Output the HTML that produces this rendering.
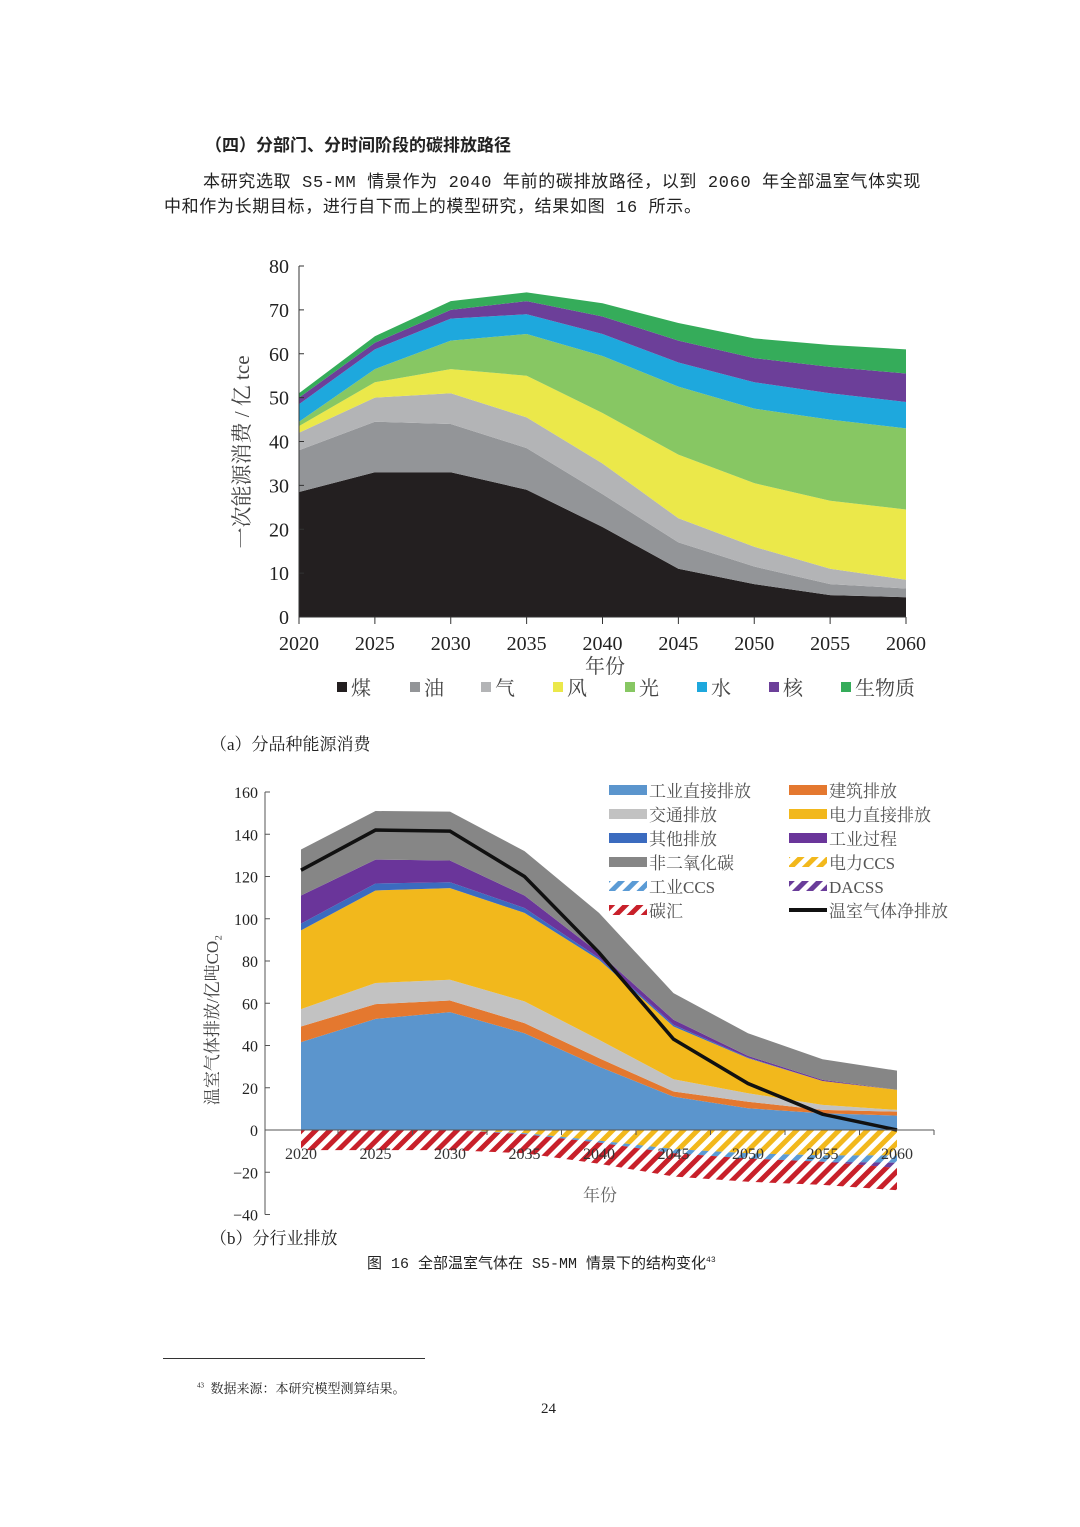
<!DOCTYPE html>
<html><head><meta charset="utf-8">
<style>
html,body{margin:0;padding:0;background:#fff;}
body{width:1080px;height:1527px;position:relative;overflow:hidden;font-family:"Liberation Serif","Noto Serif CJK SC",serif;color:#222;}
.t{position:absolute;white-space:nowrap;}
svg{position:absolute;left:0;top:0;}
svg text{font-family:"Liberation Serif","Noto Serif CJK SC",serif;}
</style></head>
<body>
<div class="t" style="left:205px;top:131px;font-size:17px;font-weight:bold;font-family:'Liberation Sans','Noto Sans CJK SC',sans-serif;">（四）分部门、分时间阶段的碳排放路径</div>
<div class="t" style="left:203px;top:167px;font-size:17px;letter-spacing:0.65px;font-family:'Liberation Mono','Noto Sans CJK SC',monospace;">本研究选取 S5-MM 情景作为 2040 年前的碳排放路径，以到 2060 年全部温室气体实现</div>
<div class="t" style="left:164px;top:192px;font-size:17px;letter-spacing:0.65px;font-family:'Liberation Mono','Noto Sans CJK SC',monospace;">中和作为长期目标，进行自下而上的模型研究，结果如图 16 所示。</div>
<svg id="svg" width="1080" height="1527">
<defs>
<pattern id="h-yellow" patternUnits="userSpaceOnUse" width="10" height="10" patternTransform="rotate(45)"><rect width="10" height="10" fill="#fff"/><rect width="5" height="10" fill="#f2b81c"/></pattern>
<pattern id="h-blue" patternUnits="userSpaceOnUse" width="10" height="10" patternTransform="rotate(45)"><rect width="10" height="10" fill="#fff"/><rect width="5" height="10" fill="#5b9bd5"/></pattern>
<pattern id="h-purple" patternUnits="userSpaceOnUse" width="10" height="10" patternTransform="rotate(45)"><rect width="10" height="10" fill="#fff"/><rect width="5" height="10" fill="#6a3d9a"/></pattern>
<pattern id="h-red" patternUnits="userSpaceOnUse" width="10" height="10" patternTransform="rotate(45)"><rect width="10" height="10" fill="#fff"/><rect width="5" height="10" fill="#c8202a"/></pattern>
</defs>
</svg>
<div class="t" style="left:367px;top:1252px;font-size:15px;font-family:'Liberation Mono','Noto Sans CJK SC',monospace;">图 16 全部温室气体在 S5-MM 情景下的结构变化<sup style="font-size:8px">43</sup></div>
<div style="position:absolute;left:163px;top:1358px;width:262px;height:1px;background:#333;"></div>
<div class="t" style="left:197px;top:1378px;font-size:13px;"><sup style="font-size:7px">43</sup>&nbsp; 数据来源：本研究模型测算结果。</div>
<div class="t" style="left:541px;top:1401px;font-size:15px;">24</div>
<script>
// ---- Chart (a) data ----
const yearsA = [2020,2025,2030,2035,2040,2045,2050,2055,2060];
const namesA = ['煤','油','气','风','光','水','核','生物质'];
const coalA = [28.5,33,33,29,20.5,11,7.5,5,4.5];
const oilA = [9.5,11.5,11,9.5,7.5,6,4,2.5,2];
const gasA = [4,5.5,7,7,7,5.5,4.5,3.5,2];
const windA = [1.5,3.5,5.5,9.5,11.5,14.5,14.5,15.5,16];
const solarA = [1,3,6.5,9.5,13,15.5,17,18.5,18.5];
const hydroA = [4,4.5,5,4.5,5,5.5,6,6,6];
const nuclearA = [1.5,1.5,2,3,4,5,5.5,6,6.5];
const bioA = [1,1.5,2,2,3,4,4.5,5,5.5];
const ticksA = [0,10,20,30,40,50,60,70,80];
// ---- Chart (b) data ----
const yearsB = [2020,2025,2030,2035,2040,2045,2050,2055,2060];
const indDirB = [41.6,52.6,55.8,45.8,30,15.8,10.3,7.9,6.8];
const buildB = [7.4,7,5.5,4.8,4,2.4,3.1,1.6,1.9];
const transB = [8.2,10,9.8,10.3,8.7,5.8,4,2.4,0.8];
const powerB = [37.3,43.8,43.4,41.9,37.9,25,16.6,11.3,9.5];
const otherB = [3.2,3.3,2.8,2.3,0.8,0.8,0.3,0,0];
const procB = [13.3,11.3,10.3,5.9,2.4,2.4,0.8,0.5,0];
const nonCO2B = [21.8,23,23.1,21,19,12.6,10.7,9.8,9.1];
const powerCCSB = [0,0,0,1.5,5,9,11,12,12];
const indCCSB = [0,0,0,0.5,1,2,2.5,3,3.5];
const dacssB = [0,0,0,0,0,0,0,0,2.5];
const sinkB = [9.5,9.5,9.5,9,10,11,11,11,10.5];
const netB = [123,142,141.5,120,84,43,22,7.5,0];
const ticksB = [-40,-20,0,20,40,60,80,100,120,140,160];

const NS='http://www.w3.org/2000/svg';
const svg=document.getElementById('svg');
function mk(tag,attrs,parent){const e=document.createElementNS(NS,tag);for(const k in attrs)e.setAttribute(k,attrs[k]);(parent||svg).appendChild(e);return e;}
function txt(x,y,s,size,anchor,fill,parent){const e=mk('text',{x:x,y:y,'font-size':size,'text-anchor':anchor||'start',fill:fill||'#222'},parent);e.textContent=s;return e;}

// ===== Chart A =====
const gA=mk('g',{});


const xA=y=>299+(y-2020)/40*607;
const yA=v=>617-v*351/80;
const seriesA=[coalA,oilA,gasA,windA,solarA,hydroA,nuclearA,bioA];
const colA=['#231f20','#939598','#b3b4b6','#ebe84a','#87c763','#1ea8dd','#6c3f99','#35ac5a'];
const slugA=['coal','oil','gas','wind','solar','hydro','nuclear','biomass'];
let baseA=yearsA.map(()=>0);
seriesA.forEach((s,i)=>{
  const top=baseA.map((b,j)=>b+s[j]);
  let d='M'+yearsA.map((yr,j)=>xA(yr)+','+yA(top[j])).join('L');
  for(let j=yearsA.length-1;j>=0;j--)d+='L'+xA(yearsA[j])+','+yA(baseA[j]);
  const p=mk('path',{d:d+'Z',fill:colA[i]},gA);
  
  
  baseA=top;
});
mk('line',{x1:299,y1:266,x2:299,y2:617,stroke:'#333','stroke-width':1},gA);
mk('line',{x1:299,y1:617,x2:906,y2:617,stroke:'#333','stroke-width':1},gA);
ticksA.forEach(t=>{
  mk('line',{x1:299,y1:yA(t),x2:304,y2:yA(t),stroke:'#333'},gA);
  const e=txt(289,yA(t)+7,String(t),20,'end','#222',gA);
  
  
});
yearsA.forEach(yr=>{
  mk('line',{x1:xA(yr),y1:617,x2:xA(yr),y2:624,stroke:'#333'},gA);
  const e=txt(xA(yr),650,String(yr),20,'middle','#222',gA);
  
  
});
const xtA=txt(605,673,'年份',20,'middle','#444',gA);


const ytA=txt(0,0,'一次能源消费 / 亿 tce',21,'middle','#444',gA);
ytA.setAttribute('transform','translate(249,452) rotate(-90)');


const legXA=[337,410,481,553,625,697,769,841];
namesA.forEach((n,i)=>{
  const g=mk('g',{},gA);
  
  
  mk('rect',{x:legXA[i],y:682,width:10,height:10,fill:colA[i]},g);
  txt(legXA[i]+14,695,n,20,'start','#444',g);
});
const capA=txt(210,750,'（a）分品种能源消费',17,'start','#222');



// ===== Chart B =====
const gB=mk('g',{});


const xB=y=>301+(y-2020)/40*596;
const yB=v=>1130-v*338/160;
const posB=[indDirB,buildB,transB,powerB,otherB,procB,nonCO2B];
const posCol=['#5b95cd','#e4782f','#c2c2c2','#f2b81c','#3b6bbf','#6a359a','#868686'];
const posSlug=['industry-direct','building','transport','power-direct','other','industry-process','non-co2'];
let baseB=yearsB.map(()=>0);
posB.forEach((s,i)=>{
  const top=baseB.map((b,j)=>b+s[j]);
  let d='M'+yearsB.map((yr,j)=>xB(yr)+','+yB(top[j])).join('L');
  for(let j=yearsB.length-1;j>=0;j--)d+='L'+xB(yearsB[j])+','+yB(baseB[j]);
  const p=mk('path',{d:d+'Z',fill:posCol[i]},gB);
  
  
  baseB=top;
});
const negB=[powerCCSB,indCCSB,dacssB,sinkB];
const negFill=['url(#h-yellow)','url(#h-blue)','url(#h-purple)','url(#h-red)'];
const negSlug=['power-ccs','industry-ccs','dacss','carbon-sink'];
baseB=yearsB.map(()=>0);
negB.forEach((s,i)=>{
  const bot=baseB.map((b,j)=>b-s[j]);
  let d='M'+yearsB.map((yr,j)=>xB(yr)+','+yB(baseB[j])).join('L');
  for(let j=yearsB.length-1;j>=0;j--)d+='L'+xB(yearsB[j])+','+yB(bot[j]);
  const p=mk('path',{d:d+'Z',fill:negFill[i]},gB);
  
  
  baseB=bot;
});
const net=mk('polyline',{points:yearsB.map((yr,j)=>xB(yr)+','+yB(netB[j])).join(' '),fill:'none',stroke:'#111','stroke-width':3.5},gB);


mk('line',{x1:265,y1:yB(160),x2:265,y2:yB(-40),stroke:'#555'},gB);
mk('line',{x1:265,y1:1130,x2:934,y2:1130,stroke:'#555'},gB);
ticksB.forEach(t=>{
  mk('line',{x1:265,y1:yB(t),x2:270,y2:yB(t),stroke:'#555'},gB);
  const e=txt(258,yB(t)+6,t<0?'−'+(-t):String(t),16,'end','#222',gB);
  
  
});
yearsB.forEach(yr=>{
  mk('line',{x1:xB(yr)+37,y1:1130,x2:xB(yr)+37,y2:1135,stroke:'#555'},gB);
  const e=txt(xB(yr),1159,String(yr),16,'middle','#333',gB);
  
  
});
const xtB=txt(600,1201,'年份',17,'middle','#666',gB);


const ytB=txt(0,0,'温室气体排放/亿吨CO₂',17,'middle','#444',gB);
ytB.setAttribute('transform','translate(218,1020) rotate(-90)');


const legB=[
 ['工业直接排放','#5b95cd',0],['建筑排放','#e4782f',0],
 ['交通排放','#c2c2c2',0],['电力直接排放','#f2b81c',0],
 ['其他排放','#3b6bbf',0],['工业过程','#6a359a',0],
 ['非二氧化碳','#868686',0],['电力CCS','url(#h-yellow)',1],
 ['工业CCS','url(#h-blue)',1],['DACSS','url(#h-purple)',1],
 ['碳汇','url(#h-red)',1],['温室气体净排放','#111',2]];
legB.forEach((l,i)=>{
  const col=i%2, row=Math.floor(i/2);
  const x=col?789:609, y=790+row*24;
  const g=mk('g',{},gB);
  
  
  if(l[2]===2) mk('rect',{x:x,y:y-2,width:38,height:4,fill:l[1]},g);
  else mk('rect',{x:x,y:y-5,width:38,height:10,fill:l[1]},g);
  txt(x+40,y+7,l[0],17,'start','#555',g);
});
const capB=txt(210,1244,'（b）分行业排放',17,'start','#222');


</script>
</body></html>
